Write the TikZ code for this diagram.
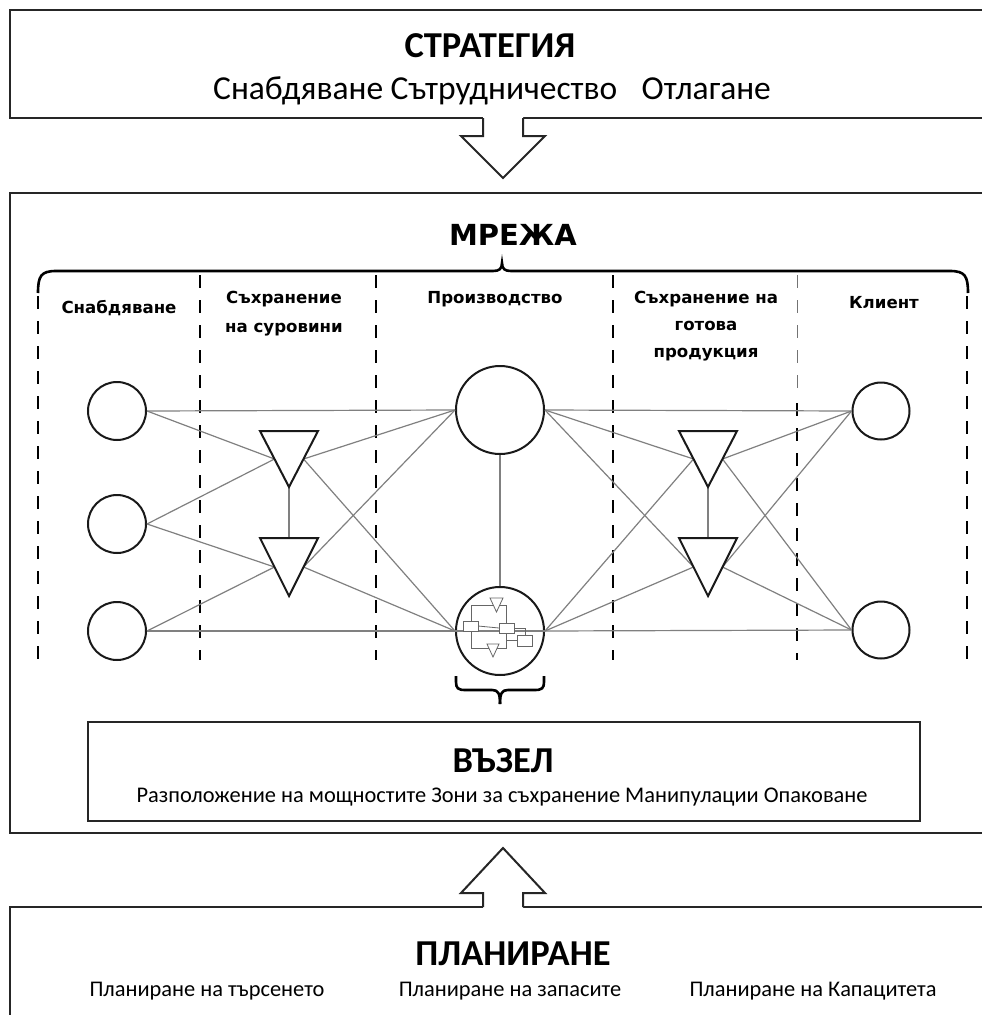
\documentclass[tikz,border=0pt]{standalone}
\usepackage{fontspec}
\setmainfont{Carlito}
\newfontfamily\lab{DejaVu Sans}
\begin{document}
\begin{tikzpicture}[x=1pt,y=-1pt,
  frame/.style={draw=black!85, line width=2pt},
  conn/.style={draw=black!50, line width=1.2pt},
  nd/.style={circle, draw=black!90, line width=2pt, inner sep=0pt, fill=white},
  sepline/.style={draw=black, line width=2.6pt, dash pattern=on 13pt off 12pt},
  thinsep/.style={draw=black!55, line width=0.8pt, dash pattern=on 13pt off 12pt},
  tri/.style={draw=black!90, line width=2pt, fill=white, line join=miter},
  brace/.style={draw=black, line width=2.6pt},
  inner/.style={draw=black!60, line width=0.8pt, fill=white},
  head/.style={font=\bfseries\fontsize{36.5}{40}\selectfont, anchor=base, inner sep=0pt},
  sub/.style={font=\fontsize{33.5}{38}\selectfont, anchor=base, inner sep=0pt},
  small/.style={font=\fontsize{22.4}{26}\selectfont, anchor=base, inner sep=0pt},
  col/.style={font=\lab\bfseries\fontsize{16.6}{19}\selectfont, anchor=base, inner sep=0pt},
  big/.style={font=\lab\bfseries\fontsize{29}{32}\selectfont, anchor=base, inner sep=0pt},
  arrowshape/.style={draw=black!85, line width=2pt, line join=miter}
]
\useasboundingbox (0,0) rectangle (982,1015);
\clip (0,0) rectangle (982,1015);
\fill[white] (0,0) rectangle (982,1015);

% ---------- boxes ----------
\draw[frame] (10,10) rectangle (1000,118);
\draw[frame] (10,193) rectangle (1000,833);
\draw[frame] (10,907) rectangle (1000,1030);
\draw[frame] (88,722) rectangle (920,821);

% ---------- arrows ----------
\fill[white] (483,116) -- (483,136) -- (461,136) -- (503,178) -- (545,136) -- (523,136) -- (523,116) -- cycle;
\draw[arrowshape] (483,118) -- (483,136) -- (461,136) -- (503,178) -- (545,136) -- (523,136) -- (523,118);
\fill[white] (483,909) -- (483,893) -- (461,893) -- (503,848) -- (545,893) -- (523,893) -- (523,909) -- cycle;
\draw[arrowshape] (483,907) -- (483,893) -- (461,893) -- (503,848) -- (545,893) -- (523,893) -- (523,907);

% ---------- texts ----------
\node[head] (strat) at (490,57) {СТРАТЕГИЯ};
\node[sub] (stratsub) at (492,99) {Снабдяване Сътрудничество\hspace{0.5em} Отлагане};
\node[big] (mreja) at (513,245) {МРЕЖА};
\node[head] (vazel) at (503,772) {ВЪЗЕЛ};
\node[small] (vazelsub) at (502,802) {Разположение на мощностите Зони за съхранение Манипулации Опаковане};
\node[head] (plan) at (513,965) {ПЛАНИРАНЕ};
\node[small] (plan1) at (207,996) {Планиране на търсенето};
\node[small] (plan2) at (510,996) {Планиране на запасите};
\node[small] (plan3) at (813,996) {Планиране на Капацитета};

% column labels
\node[col] (c1) at (119,313) {Снабдяване};
\node[col] (c2a) at (284,303) {Съхранение};
\node[col] (c2b) at (284,332) {на суровини};
\node[col] (c3) at (495,303) {Производство};
\node[col] (c4a) at (706,303) {Съхранение на};
\node[col] (c4b) at (706,330) {готова};
\node[col] (c4c) at (706,357) {продукция};
\node[col] (c5) at (884,308) {Клиент};

% ---------- brace for network ----------
\draw[brace] (38,293) .. controls (38,276) and (41,271) .. (56,271) -- (493,271)
  .. controls (499,271) and (502,269) .. (502,263)
  .. controls (502,269) and (505,271) .. (511,271) -- (950,271)
  .. controls (965,271) and (968,276) .. (968,293);

% ---------- dashed separators ----------
\draw[sepline] (38,296) -- (38,660);
\draw[sepline] (200,275) -- (200,660);
\draw[sepline] (376,275) -- (376,660);
\draw[sepline] (613,275) -- (613,660);
\draw[thinsep] (797,275) -- (797,393);
\draw[sepline] (797,403) -- (797,660);
\draw[sepline] (967,296) -- (967,660);

% ---------- nodes ----------
\node[nd, minimum size=58pt] (s1) at (117,411) {};
\node[nd, minimum size=58pt] (s2) at (117,524) {};
\node[nd, minimum size=58pt] (s3) at (117,631) {};
\node[nd, minimum size=88pt] (pb) at (500,410) {};
\node[nd, minimum size=88pt] (pn) at (500,631) {};
\node[nd, minimum size=57pt] (k1) at (881,411) {};
\node[nd, minimum size=57pt] (k2) at (881,630) {};

% triangle anchor coordinates
\coordinate (L1l) at (274.5,459); \coordinate (L1r) at (303.5,459);
\coordinate (L1b) at (289,487);   \coordinate (L2t) at (289,538);
\coordinate (L2l) at (274.5,567); \coordinate (L2r) at (303.5,567);
\coordinate (R1l) at (693.5,459); \coordinate (R1r) at (722.5,459);
\coordinate (R1b) at (708,487);   \coordinate (R2t) at (708,538);
\coordinate (R2l) at (693.5,567); \coordinate (R2r) at (722.5,567);

% ---------- connectors ----------
\draw[conn] (s1.east) -- (pb.west);
\draw[conn] (s1.east) -- (L1l);
\draw[conn] (s2.east) -- (L1l);
\draw[conn] (s2.east) -- (L2l);
\draw[conn] (s3.east) -- (L2l);
\draw[conn] (s3.east) -- (pn.west);
\draw[conn] (L1r) -- (pb.west);
\draw[conn] (L1r) -- (pn.west);
\draw[conn] (L2r) -- (pb.west);
\draw[conn] (L2r) -- (pn.west);
\draw[conn] (L1b) -- (L2t);
\draw[conn] (pb.south) -- (pn.north);
\draw[conn] (pb.east) -- (k1.west);
\draw[conn] (pb.east) -- (R1l);
\draw[conn] (pb.east) -- (R2l);
\draw[conn] (pn.east) -- (R1l);
\draw[conn] (pn.east) -- (R2l);
\draw[conn] (pn.east) -- (k2.west);
\draw[conn] (R1r) -- (k1.west);
\draw[conn] (R1r) -- (k2.west);
\draw[conn] (R2r) -- (k1.west);
\draw[conn] (R2r) -- (k2.west);
\draw[conn] (R1b) -- (R2t);

% ---------- triangles ----------
\draw[tri] (260,431) -- (318,431) -- (289,487) -- cycle;
\draw[tri] (260,538) -- (318,538) -- (289,596) -- cycle;
\draw[tri] (679,431) -- (737,431) -- (708,487) -- cycle;
\draw[tri] (679,538) -- (737,538) -- (708,596) -- cycle;

% connector passing through the production node
\draw[conn] (pn.west) -- (pn.east);

% ---------- inner process sketch ----------
\draw[inner, fill=none] (471,621) -- (471,605) -- (506,605) -- (506,623);
\draw[inner, fill=none] (471,631) -- (471,648) -- (506,648) -- (506,633);
\draw[inner, fill=none] (478,626) -- (499,628);
\draw[inner, fill=none] (514,628) -- (525,628) -- (525,635);
\draw[inner, fill=none] (506,640) -- (517,640);
\draw[inner] (463,621) rectangle (478,631);
\draw[inner] (499,623) rectangle (514,633);
\draw[inner] (517,635) rectangle (532,646);
\draw[inner] (490,598) -- (503,598) -- (496.5,612) -- cycle;
\draw[inner] (487,644) -- (499,644) -- (493,657) -- cycle;

% ---------- brace under production node ----------
\draw[brace] (456,676) -- (456,682) .. controls (456,688) and (458,690) .. (465,690) -- (492,690)
  .. controls (498,690) and (500,693) .. (500,704);
\draw[brace] (544,676) -- (544,682) .. controls (544,688) and (542,690) .. (535,690) -- (508,690)
  .. controls (502,690) and (500,693) .. (500,704);
\end{tikzpicture}
\end{document}
